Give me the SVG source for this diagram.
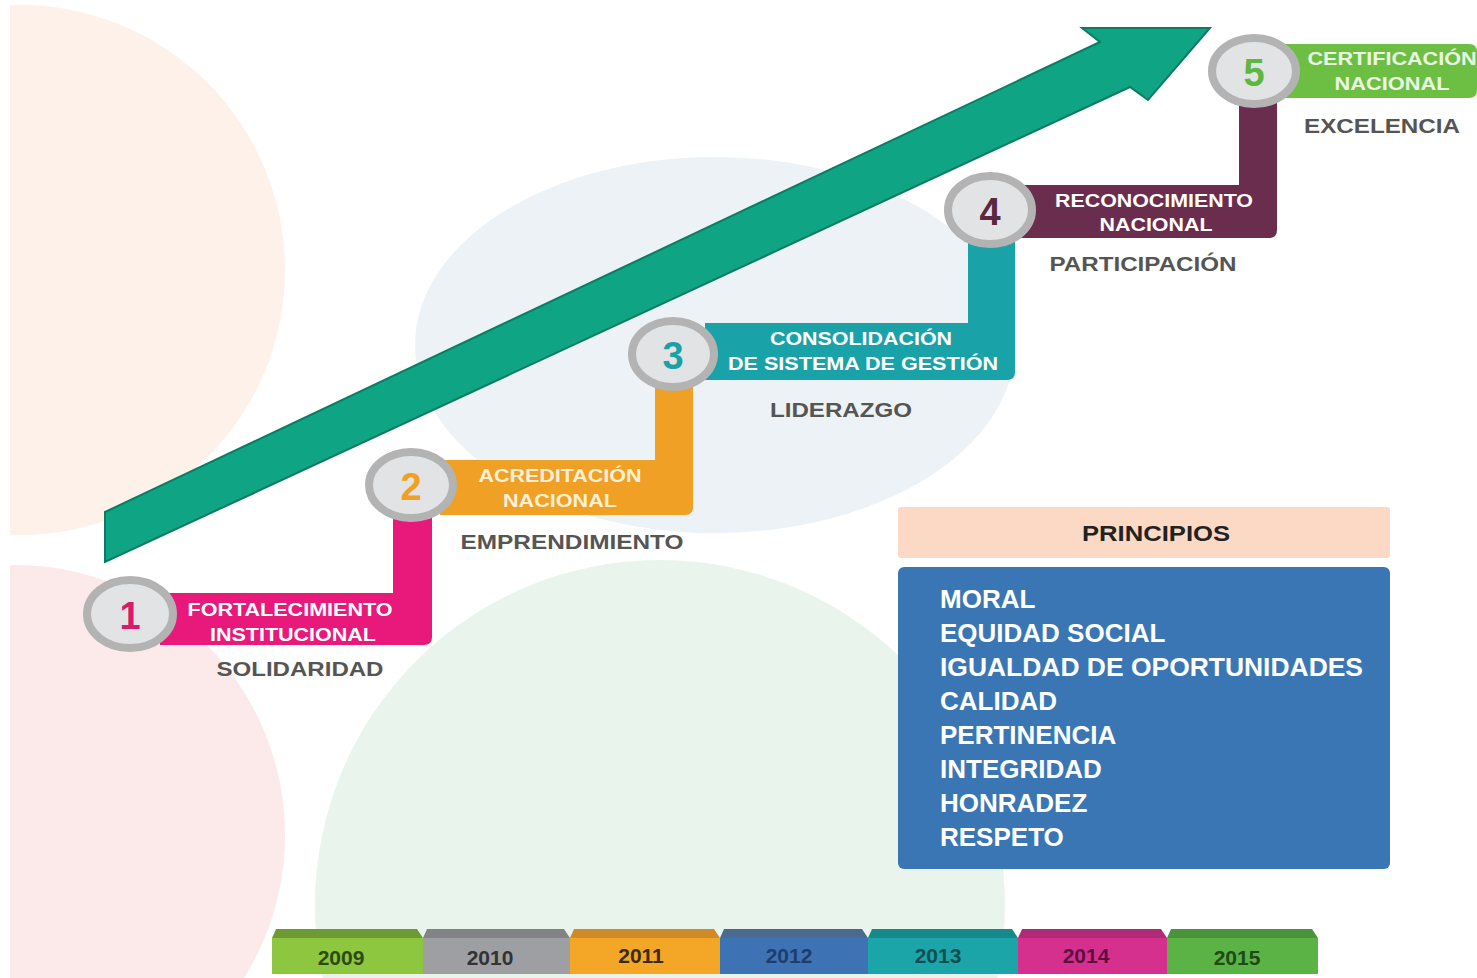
<svg xmlns="http://www.w3.org/2000/svg" width="1477" height="978" viewBox="0 0 1477 978">
<defs>
<style>
.t{font-family:"Liberation Sans",Arial,sans-serif;font-weight:bold}
.st{fill:#ffffff;font-size:19px;text-anchor:middle}
.lb{fill:#555555;font-size:21px;text-anchor:middle}
.num{font-size:38px;text-anchor:middle}
.ring{fill:#e2e3e5;stroke:#b3b3b3;stroke-width:8}
.pr{fill:#ffffff;font-size:26px}
.yr{font-size:21px;text-anchor:middle}
</style>
<radialGradient id="rg" cx="0.45" cy="0.45" r="0.6">
<stop offset="0" stop-color="#eceef0"/>
<stop offset="1" stop-color="#d9dadc"/>
</radialGradient>
</defs>
<rect x="0" y="0" width="1477" height="978" fill="#ffffff"/>
<g id="background">
<circle cx="20" cy="270" r="265" fill="#fdf1ea"/>
<circle cx="15" cy="835" r="270" fill="#fce9ea"/>
<circle cx="660" cy="905" r="345" fill="#e9f4ec"/>
<ellipse cx="715" cy="345" rx="300" ry="188" fill="#edf2f6"/>
<rect x="0" y="0" width="10" height="978" fill="#ffffff"/>
</g>
<g id="arrow">
<polygon points="105,512 1100,42 1082,28 1210,28 1148,100 1130,87 105,562" fill="#0fa584" stroke="#0b7c62" stroke-width="2" stroke-linejoin="miter"/>
</g>
<g id="connectors">
<path d="M160,593 H393 V500 H432 V637 Q432,645 424,645 H160 Z" fill="#e8197a"/>
<path d="M440,460 H655 V360 H693 V507 Q693,515 685,515 H440 Z" fill="#f0a024"/>
<path d="M705,323 H968 V220 H1015 V372 Q1015,380 1007,380 H705 Z" fill="#19a2a8"/>
<path d="M1020,185 H1239 V95 H1277 V230 Q1277,238 1269,238 H1020 Z" fill="#6a2d4e"/>
<path d="M1285,44 H1469 Q1477,44 1477,52 V90 Q1477,98 1469,98 H1285 Z" fill="#6dbf44"/>
</g>
<g id="step1">
<ellipse class="ring" cx="130" cy="614" rx="43" ry="34" fill="url(#rg)"/>
<text class="t num" x="130" y="629" fill="#d81b6a">1</text>
<text class="t st" x="290" y="616" textLength="205" lengthAdjust="spacingAndGlyphs">FORTALECIMIENTO</text>
<text class="t st" x="293" y="641" textLength="166" lengthAdjust="spacingAndGlyphs">INSTITUCIONAL</text>
<text class="t lb" x="300" y="676" textLength="167" lengthAdjust="spacingAndGlyphs">SOLIDARIDAD</text>
</g>
<g id="step2">
<ellipse class="ring" cx="411" cy="485" rx="42" ry="33" fill="url(#rg)"/>
<text class="t num" x="411" y="500" fill="#f0a024">2</text>
<text class="t st" x="560" y="482" textLength="163" lengthAdjust="spacingAndGlyphs" style="fill:#fdf0d6">ACREDITACIÓN</text>
<text class="t st" x="560" y="507" textLength="114" lengthAdjust="spacingAndGlyphs" style="fill:#fdf0d6">NACIONAL</text>
<text class="t lb" x="572" y="549" textLength="223" lengthAdjust="spacingAndGlyphs">EMPRENDIMIENTO</text>
</g>
<g id="step3">
<ellipse class="ring" cx="673" cy="354" rx="41" ry="33" fill="url(#rg)"/>
<text class="t num" x="673" y="369" fill="#1aa0a8">3</text>
<text class="t st" x="861" y="345" textLength="182" lengthAdjust="spacingAndGlyphs">CONSOLIDACIÓN</text>
<text class="t st" x="863" y="370" textLength="270" lengthAdjust="spacingAndGlyphs">DE SISTEMA DE GESTIÓN</text>
<text class="t lb" x="841" y="417" textLength="142" lengthAdjust="spacingAndGlyphs">LIDERAZGO</text>
</g>
<g id="step4">
<ellipse class="ring" cx="990" cy="210" rx="42" ry="34" fill="url(#rg)"/>
<text class="t num" x="990" y="225" fill="#5a2840">4</text>
<text class="t st" x="1154" y="207" textLength="198" lengthAdjust="spacingAndGlyphs">RECONOCIMIENTO</text>
<text class="t st" x="1156" y="231" textLength="113" lengthAdjust="spacingAndGlyphs">NACIONAL</text>
<text class="t lb" x="1143" y="271" textLength="187" lengthAdjust="spacingAndGlyphs">PARTICIPACIÓN</text>
</g>
<g id="step5">
<ellipse class="ring" cx="1254" cy="71" rx="42" ry="33" fill="url(#rg)"/>
<text class="t num" x="1254" y="86" fill="#5cb840">5</text>
<text class="t st" x="1392" y="65" textLength="169" lengthAdjust="spacingAndGlyphs" style="fill:#eaf7e2">CERTIFICACIÓN</text>
<text class="t st" x="1392" y="90" textLength="115" lengthAdjust="spacingAndGlyphs" style="fill:#eaf7e2">NACIONAL</text>
<text class="t lb" x="1382" y="133" textLength="156" lengthAdjust="spacingAndGlyphs">EXCELENCIA</text>
</g>
<g id="principios">
<rect x="898" y="507" width="492" height="51" rx="3" fill="#fcd9c4"/>
<text class="t" x="1156" y="541" font-size="22" fill="#222222" text-anchor="middle" textLength="148" lengthAdjust="spacingAndGlyphs">PRINCIPIOS</text>
<rect x="898" y="567" width="492" height="302" rx="6" fill="#3a76b4"/>
<text class="t pr" x="940" y="608">MORAL</text>
<text class="t pr" x="940" y="642">EQUIDAD SOCIAL</text>
<text class="t pr" x="940" y="676" textLength="423" lengthAdjust="spacingAndGlyphs">IGUALDAD DE OPORTUNIDADES</text>
<text class="t pr" x="940" y="710">CALIDAD</text>
<text class="t pr" x="940" y="744">PERTINENCIA</text>
<text class="t pr" x="940" y="778">INTEGRIDAD</text>
<text class="t pr" x="940" y="812">HONRADEZ</text>
<text class="t pr" x="940" y="846">RESPETO</text>
</g>
<g id="years">
<g id="y2009"><rect x="272" y="938" width="151" height="36" fill="#8dc63f"/><path d="M272,938 L276,929 H417 L423,938 Z" fill="#6e9a33"/><text class="t yr" x="341" y="965" fill="#2d4a12">2009</text></g>
<g id="y2010"><rect x="423" y="938" width="147" height="36" fill="#9d9fa2"/><path d="M423,938 L427,929 H564 L570,938 Z" fill="#818386"/><text class="t yr" x="490" y="965" fill="#333333">2010</text></g>
<g id="y2011"><rect x="570" y="938" width="150" height="36" fill="#f4a626"/><path d="M570,938 L574,929 H714 L720,938 Z" fill="#cf8a2a"/><text class="t yr" x="641" y="963" fill="#3a2a08">2011</text></g>
<g id="y2012"><rect x="720" y="938" width="148" height="36" fill="#3d72b4"/><path d="M720,938 L724,929 H862 L868,938 Z" fill="#4a6a90"/><text class="t yr" x="789" y="963" fill="#1f3d6b">2012</text></g>
<g id="y2013"><rect x="868" y="938" width="150" height="36" fill="#1ba5a8"/><path d="M868,938 L872,929 H1012 L1018,938 Z" fill="#15898c"/><text class="t yr" x="938" y="963" fill="#0f4f52">2013</text></g>
<g id="y2014"><rect x="1018" y="938" width="149" height="36" fill="#d6308f"/><path d="M1018,938 L1022,929 H1161 L1167,938 Z" fill="#b02a78"/><text class="t yr" x="1086" y="963" fill="#5a1040">2014</text></g>
<g id="y2015"><rect x="1167" y="938" width="151" height="36" fill="#5bb346"/><path d="M1167,938 L1171,929 H1312 L1318,938 Z" fill="#4a933a"/><text class="t yr" x="1237" y="965" fill="#1e4a18">2015</text></g>
</g>
</svg>
